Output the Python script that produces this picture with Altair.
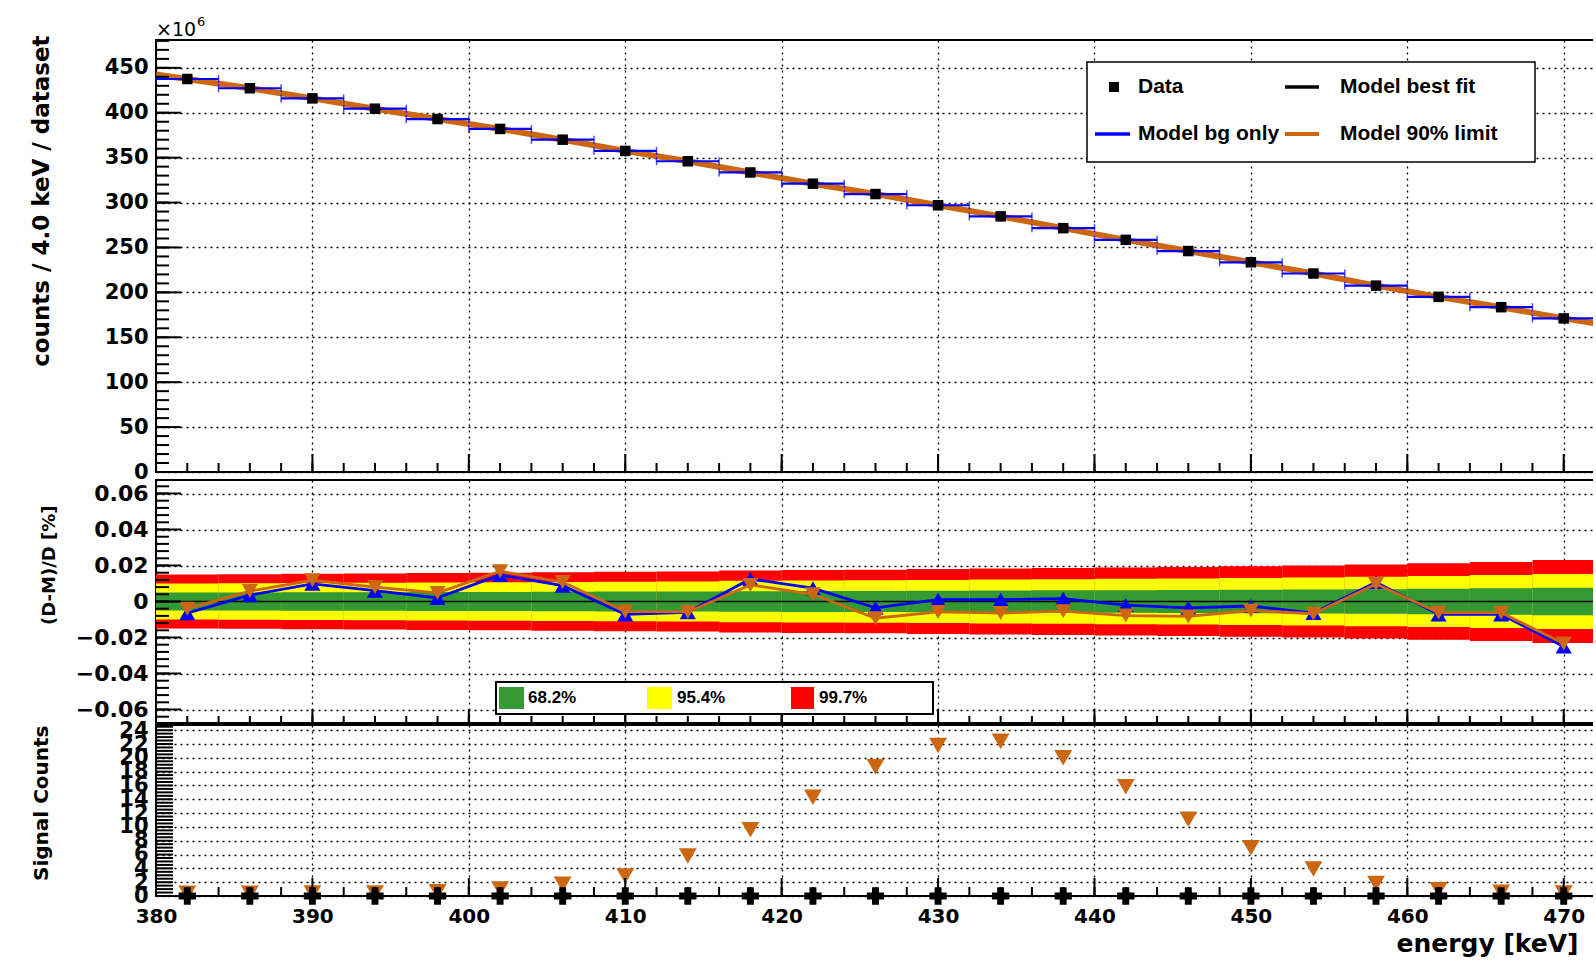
import altair as alt
import pandas as pd

# ---------------- data ----------------
energy = [382, 386, 390, 394, 398, 402, 406, 410, 414, 418, 422, 426,
          430, 434, 438, 442, 446, 450, 454, 458, 462, 466, 470]
counts = [437.6, 427.3, 416.0, 404.5, 393.0, 382.0, 370.0, 357.5, 346.0,
          333.5, 321.0, 309.5, 297.0, 284.6, 271.5, 258.5, 246.0, 233.5,
          221.0, 207.5, 195.0, 183.5, 171.0]
model_energy = [380] + energy + [472]
model_counts = [442.5] + counts + [165.5]
sigma = [0.00500, 0.00505, 0.00515, 0.00520, 0.00527, 0.00533, 0.00540,
         0.00550, 0.00557, 0.00573, 0.00583, 0.00590, 0.00600, 0.00610,
         0.00620, 0.00630, 0.00640, 0.00653, 0.00667, 0.00687, 0.00707,
         0.00733, 0.00767]
resid_bg = [-0.0065, 0.0035, 0.0098, 0.0060, 0.0020, 0.0147, 0.0088, -0.0072,
            -0.0060, 0.0125, 0.0074, -0.0035, 0.0010, 0.0010, 0.0016, -0.0020,
            -0.0035, -0.0025, -0.0064, 0.0107, -0.0072, -0.0072, -0.0250]
resid_lim = [-0.0040, 0.0058, 0.0118, 0.0080, 0.0048, 0.0168, 0.0108, -0.0055,
             -0.0058, 0.0092, 0.0040, -0.0093, -0.0058, -0.0064, -0.0054, -0.0078,
             -0.0083, -0.0050, -0.0068, 0.0097, -0.0062, -0.0062, -0.0233]
signal_limit = [0.4, 0.4, 0.45, 0.45, 0.6, 1.0, 1.7, 2.9, 5.8, 9.6, 14.3, 18.7,
                21.8, 22.4, 20.0, 15.8, 11.1, 7.0, 3.9, 1.8, 0.9, 0.55, 0.45]
signal_best = [0] * 23

x_tick_labels = [380, 390, 400, 410, 420, 430, 440, 450, 460, 470]
top_y_labels = [0, 50, 100, 150, 200, 250, 300, 350, 400, 450]
mid_y_labels = [-0.06, -0.04, -0.02, 0, 0.02, 0.04, 0.06]
bot_y_labels = [0, 2, 4, 6, 8, 10, 12, 14, 16, 18, 20, 22, 24]

# ---------------- tables ----------------
bins = pd.DataFrame({"E": energy, "counts": counts, "sigma": sigma,
                     "bg": resid_bg, "lim": resid_lim,
                     "sig": signal_limit, "best": signal_best})
bins["lo"] = bins["E"] - 2
bins["hi"] = bins["E"] + 2
for k in (1, 2, 3):
    bins[f"p{k}"] = k * bins["sigma"]
    bins[f"m{k}"] = -k * bins["sigma"]
model = pd.DataFrame({"E": model_energy, "m": model_counts})
one = pd.DataFrame({"a": [0]})

# ---------------- style ----------------
FONT = "DejaVu Sans"
LFONT = "Liberation Sans"
ORANGE = "#cc6611"
BLUE = "#0000ff"
W = 1439
H1, H2, H3 = 432, 243, 171
XDOM = [380, 472]
GRID = dict(grid=True, gridColor="black", gridDash=[2, 4], gridWidth=1.3,
            gridOpacity=1, ticks=False, domain=False)

x_axis_plain = alt.Axis(values=x_tick_labels, labels=False, title=None, **GRID)
x_axis_bottom = alt.Axis(values=x_tick_labels, format="d", labelFont=FONT,
                         labelFontSize=20, labelFontWeight="bold", labelPadding=10,
                         labelFlush=False, labelOverlap=False, labelColor="black",
                         title="energy [keV]", titleFont=FONT, titleFontSize=25,
                         titleFontWeight="bold", titleX=1422, titleY=55,
                         titleAlign="right", titleBaseline="alphabetic",
                         titleColor="black", **GRID)


def yaxis(values, fmt, lsize, title, tsize, tx, ty):
    return alt.Axis(values=values, format=fmt, labelFont=FONT, labelFontSize=lsize,
                    labelFontWeight="bold", labelPadding=8, labelOverlap=False,
                    labelColor="black", title=title, titleFont=FONT,
                    titleFontSize=tsize, titleFontWeight="bold", titleX=tx, titleY=ty,
                    titleAlign="right", titleBaseline="middle", titleColor="black",
                    **GRID)


y_axis_top = yaxis(top_y_labels, "d", 21, "counts / 4.0 keV / dataset", 23, -115, -5)
y_axis_mid = yaxis(mid_y_labels, ".2~f", 22, "(D-M)/D [%]", 18, -107, 25)
y_axis_bot = yaxis(bot_y_labels, "d", 21, "Signal Counts", 20, -115, 0)

xs = alt.Scale(domain=XDOM, nice=False, zero=False)


def X(f, axis):
    return alt.X(f"{f}:Q", scale=xs, axis=axis)


def Yf(dom, axis):
    sc = alt.Scale(domain=dom, nice=False, zero=False)
    return lambda f: alt.Y(f"{f}:Q", scale=sc, axis=axis)


ytop = Yf([0, 481], y_axis_top)
ymid = Yf([-0.0675, 0.0675], y_axis_mid)
ybot = Yf([0, 24.75], y_axis_bot)


def left_ticks(yfn, values, length, width=2):
    df = pd.DataFrame({"v": values})
    return alt.Chart(df).mark_rule(color="black", strokeWidth=width).encode(
        y=yfn("v"), x=alt.value(0), x2=alt.value(length))


def bottom_ticks(xaxis, H, values, length, width=2):
    df = pd.DataFrame({"v": values})
    return alt.Chart(df).mark_rule(color="black", strokeWidth=width).encode(
        x=X("v", xaxis), y=alt.value(H), y2=alt.value(H - length))


X_MINOR = list(range(380, 473, 2))


def text_at(txt, x, y, size, weight="bold", font=FONT, align="left", baseline="middle"):
    return alt.Chart(one).mark_text(text=txt, font=font, fontSize=size, fontWeight=weight,
                                    align=align, baseline=baseline, color="black").encode(
        x=alt.value(x), y=alt.value(y))


def seg(x1, x2, y, color, width):
    return alt.Chart(one).mark_rule(color=color, strokeWidth=width).encode(
        x=alt.value(x1), x2=alt.value(x2), y=alt.value(y))


def box(x1, x2, y1, y2, fill, stroke=None, sw=0):
    kw = dict(fill=fill, opacity=1)
    if stroke:
        kw.update(stroke=stroke, strokeWidth=sw)
    return alt.Chart(one).mark_rect(**kw).encode(
        x=alt.value(x1), x2=alt.value(x2), y=alt.value(y1), y2=alt.value(y2))


# ---------------- top panel ----------------
xa = x_axis_plain
top_layers = [
    alt.Chart(model).mark_line(color=ORANGE, strokeWidth=6).encode(x=X("E", xa), y=ytop("m")),
    alt.Chart(bins).mark_rule(color=BLUE, strokeWidth=2.2).encode(
        x=X("lo", xa), x2="hi:Q", y=ytop("counts")),
    alt.Chart(bins).mark_tick(color=BLUE, orient="vertical", size=8, thickness=1.5).encode(
        x=X("lo", xa), y=ytop("counts")),
    alt.Chart(bins).mark_tick(color=BLUE, orient="vertical", size=8, thickness=1.5).encode(
        x=X("hi", xa), y=ytop("counts")),
    alt.Chart(bins).mark_square(color="black", size=110, opacity=1).encode(
        x=X("E", xa), y=ytop("counts")),
    left_ticks(ytop, list(range(0, 481, 10)), 13),
    left_ticks(ytop, top_y_labels, 25),
    bottom_ticks(xa, H1, X_MINOR, 9),
    bottom_ticks(xa, H1, x_tick_labels, 18),
    # legend
    box(931, 1379, 22, 122, "white", "black", 1.5),
    alt.Chart(one).mark_square(color="black", size=100, opacity=1).encode(
        x=alt.value(958), y=alt.value(47)),
    text_at("Data", 982, 47, 21, font=LFONT),
    seg(1129, 1163, 47, "black", 3.5),
    text_at("Model best fit", 1184, 47, 21, font=LFONT),
    seg(939, 974, 94, BLUE, 3.5),
    text_at("Model bg only", 982, 94, 21, font=LFONT),
    seg(1129, 1163, 94, ORANGE, 4),
    text_at("Model 90% limit", 1184, 94, 21, font=LFONT),
    text_at("×10", 0, -4, 19, weight="normal", baseline="alphabetic"),
    text_at("6", 41, -14, 13, weight="normal", baseline="alphabetic"),
]
top = alt.layer(*top_layers).properties(width=W, height=H1)

# ---------------- middle panel ----------------
mid_layers = [
    alt.Chart(bins).mark_rect(color="#ff0000", opacity=1).encode(
        x=X("lo", xa), x2="hi:Q", y=ymid("m3"), y2="p3:Q"),
    alt.Chart(bins).mark_rect(color="#ffff00", opacity=1).encode(
        x=X("lo", xa), x2="hi:Q", y=ymid("m2"), y2="p2:Q"),
    alt.Chart(bins).mark_rect(color="#339933", opacity=1).encode(
        x=X("lo", xa), x2="hi:Q", y=ymid("m1"), y2="p1:Q"),
    alt.Chart(pd.DataFrame({"v": [0]})).mark_rule(color="black", strokeWidth=1.5).encode(
        y=ymid("v"), x=alt.value(0), x2=alt.value(W)),
    alt.Chart(bins).mark_line(color=BLUE, strokeWidth=2.8).encode(x=X("E", xa), y=ymid("bg")),
    alt.Chart(bins).mark_point(shape="triangle-up", filled=True, size=260, color=BLUE,
                               opacity=1).encode(x=X("E", xa), y=ymid("bg")),
    alt.Chart(bins).mark_line(color=ORANGE, strokeWidth=2.8).encode(x=X("E", xa), y=ymid("lim")),
    alt.Chart(bins).mark_point(shape="triangle-down", filled=True, size=260, color=ORANGE,
                               opacity=1).encode(x=X("E", xa), y=ymid("lim")),
    left_ticks(ymid, [round(i * 0.004, 3) for i in range(-16, 17)], 13),
    left_ticks(ymid, mid_y_labels, 25),
    bottom_ticks(xa, H2, X_MINOR, 7),
    bottom_ticks(xa, H2, x_tick_labels, 14),
    # band legend
    box(340, 777, 202, 234, "white", "black", 2),
    box(343, 368, 207, 229, "#339933"),
    text_at("68.2%", 372, 218, 17, font=LFONT),
    box(491, 516, 207, 229, "#ffff00"),
    text_at("95.4%", 521, 218, 17, font=LFONT),
    box(635, 658, 207, 229, "#ff0000"),
    text_at("99.7%", 663, 218, 17, font=LFONT),
]
mid = alt.layer(*mid_layers).properties(width=W, height=H2)

# ---------------- bottom panel ----------------
xb = x_axis_bottom
bot_layers = [
    alt.Chart(bins).mark_point(shape="triangle-down", filled=True, size=320, color=ORANGE,
                               opacity=1).encode(x=X("E", xb), y=ybot("sig")),
    alt.Chart(bins).mark_point(shape="cross", filled=True, size=300, color="black",
                               opacity=1).encode(x=X("E", xb), y=ybot("best")),
    left_ticks(ybot, [i * 0.5 for i in range(0, 50)], 17),
    bottom_ticks(xb, H3, X_MINOR, 9),
    bottom_ticks(xb, H3, x_tick_labels, 18),
]
bot = alt.layer(*bot_layers).properties(width=W, height=H3)

inner = alt.vconcat(mid, bot, spacing=2, bounds="flush")
chart = alt.vconcat(top, inner, spacing=8, bounds="flush").properties(
    padding={"left": 28, "top": 15, "right": -15, "bottom": 6},
    background="white",
).configure_view(stroke="black", strokeWidth=2)

chart.save("out.html", embed_options={"renderer": "svg", "actions": False})
